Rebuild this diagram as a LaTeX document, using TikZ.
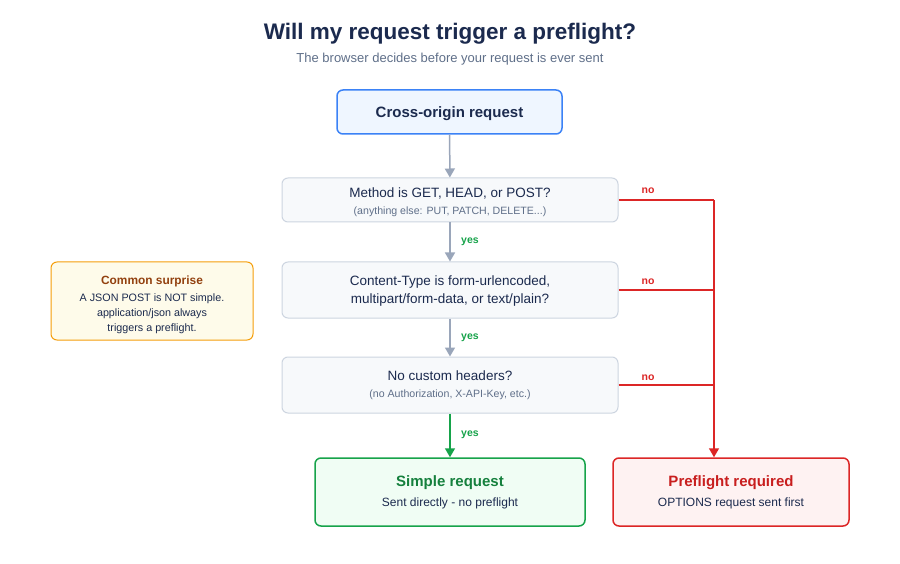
\documentclass[tikz,border=0pt]{standalone}
\usepackage{fontspec}
\setmainfont{Liberation Sans}
\usetikzlibrary{arrows.meta}
\definecolor{navy}{HTML}{1B2A4E}
\definecolor{subgray}{HTML}{5F6F89}
\definecolor{boxline}{HTML}{CDD5E0}
\definecolor{boxfill}{HTML}{F7F9FB}
\definecolor{arrgray}{HTML}{9AA6BA}
\definecolor{gline}{HTML}{16A34A}
\definecolor{gtext}{HTML}{15803D}
\definecolor{gfill}{HTML}{F0FDF4}
\definecolor{rline}{HTML}{DC2626}
\definecolor{rtext}{HTML}{C81E1E}
\definecolor{rfill}{HTML}{FEF2F2}
\definecolor{bline}{HTML}{3B82F6}
\definecolor{bfill}{HTML}{EFF6FF}
\definecolor{oline}{HTML}{F59E0B}
\definecolor{ofill}{HTML}{FEFBEA}
\definecolor{otext}{HTML}{92400E}
\newcommand{\fs}[1]{\fontsize{#1}{#1}\selectfont}
\begin{document}
\begin{tikzpicture}[x=1pt,y=-1pt,
  box/.style={draw=boxline,fill=boxfill,rounded corners=6pt,line width=1pt,inner sep=0pt},
  txt/.style={inner sep=0pt,text=navy,anchor=base},
  subtxt/.style={inner sep=0pt,text=subgray,anchor=base},
  tip/.style={-{Triangle[length=9pt,width=10pt]}},
  flow/.style={draw=arrgray,line width=1.5pt,tip},
  yesflow/.style={draw=gline,line width=1.5pt,tip},
  noline/.style={draw=rline,line width=1.5pt},
  yeslab/.style={inner sep=0pt,text=gline,font=\fs{10.5}\bfseries,anchor=base},
  nolab/.style={inner sep=0pt,text=rline,font=\fs{10.5}\bfseries,anchor=base}]
\useasboundingbox[fill=white] (0,0) rectangle (900,564);
% title
\node[txt,font=\fs{22.5}\bfseries] (title) at (450,39.5) {Will my request trigger a preflight?};
\node[subtxt,font=\fs{13}] (subtitle) at (450,62.5) {The browser decides before your request is ever sent};
% start
\node[box,draw=bline,fill=bfill,line width=1.5pt,minimum width=225pt,minimum height=44pt] (start) at (449.5,112) {};
\node[txt,font=\fs{15}\bfseries] (startt) at (449.5,117.5) {Cross-origin request};
% method
\node[box,minimum width=336pt,minimum height=44pt] (m) at (450,200) {};
\node[txt,font=\fs{13.5}] (mt) at (450,197.9) {Method is GET, HEAD, or POST?};
\node[subtxt,font=\fs{10.6}] (ms) at (450,214.8) {(anything else: PUT, PATCH, DELETE...)};
% content type
\node[box,minimum width=336pt,minimum height=56pt] (ct) at (450,290) {};
\node[txt,font=\fs{13.5}] (ct1) at (450,285.9) {Content-Type is form-urlencoded,};
\node[txt,font=\fs{13.5}] (ct2) at (450,303.9) {multipart/form-data, or text/plain?};
% headers
\node[box,minimum width=336pt,minimum height=56pt] (h) at (450,385) {};
\node[txt,font=\fs{13.5}] (ht) at (450,380.9) {No custom headers?};
\node[subtxt,font=\fs{10.6}] (hs) at (450,397.8) {(no Authorization, X-API-Key, etc.)};
% simple
\node[box,draw=gline,fill=gfill,line width=1.5pt,minimum width=270pt,minimum height=68pt] (simple) at (450,492) {};
\node[txt,text=gtext,font=\fs{15}\bfseries] (simplet) at (450,486.4) {Simple request};
\node[txt,font=\fs{12}] (simples) at (450,506.3) {Sent directly - no preflight};
% preflight
\node[box,draw=rline,fill=rfill,line width=1.5pt,minimum width=236pt,minimum height=68pt] (pre) at (731,492) {};
\node[txt,text=rtext,font=\fs{15}\bfseries] (pret) at (731,486.4) {Preflight required};
\node[txt,font=\fs{12}] (pres) at (731,506.3) {OPTIONS request sent first};
% surprise
\node[box,draw=oline,fill=ofill,minimum width=202pt,minimum height=78pt] (sur) at (152,301) {};
\node[txt,text=otext,font=\fs{11.9}\bfseries] (surt) at (152,284.3) {Common surprise};
\node[txt,font=\fs{10.75}] (sur1) at (152,301.9) {A JSON POST is NOT simple.};
\node[txt,font=\fs{10.75}] (sur2) at (152,316.9) {application/json always};
\node[txt,font=\fs{10.75}] (sur3) at (152,331.9) {triggers a preflight.};
% flow arrows
\draw[flow] (start) -- (m);
\draw[flow] (m) -- (ct);
\draw[flow] (ct) -- (h);
\draw[yesflow] (h) -- (simple);
\node[yeslab] (y1) at (470,244) {yes};
\node[yeslab] (y2) at (470,339) {yes};
\node[yeslab] (y3) at (470,436) {yes};
% no branch
\coordinate (spine) at (714,200);
\draw[noline] (m.east) -- (m.east -| spine);
\draw[noline] (ct.east) -- (ct.east -| spine);
\draw[noline] (h.east) -- (h.east -| spine);
\draw[noline,tip] (m.east -| spine) -- (spine |- pre.north);
\node[nolab] (n1) at (648,194) {no};
\node[nolab] (n2) at (648,284) {no};
\node[nolab] (n3) at (648,380) {no};
\end{tikzpicture}
\end{document}
